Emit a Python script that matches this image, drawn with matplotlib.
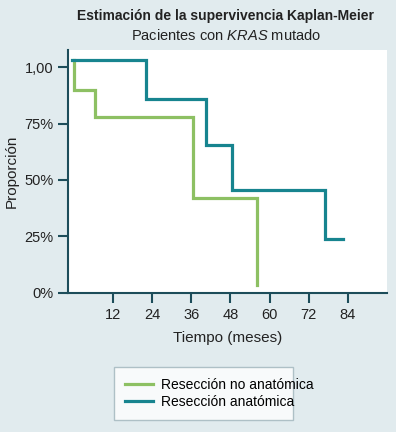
import matplotlib
matplotlib.use("Agg")
import matplotlib.pyplot as plt

# Kaplan-Meier step curves (months, survival proportion)
no_anat_t = [0, 0, 6.5, 36.5, 56]
no_anat_s = [1.03, 0.90, 0.78, 0.42, 0.035]
anat_t = [-0.5, 22, 40.5, 48.5, 77, 82.5]
anat_s = [1.03, 0.86, 0.655, 0.455, 0.24, 0.24]

x_ticks = [12, 24, 36, 48, 60, 72, 84]
y_ticks = [0, 0.25, 0.5, 0.75, 1.0]
y_labels = ["0%", "25%", "50%", "75%", "1,00"]

BG = "#e1ebee"
GREEN = "#8dc063"
TEAL = "#17848f"
SPINE = "#1d4d5a"

plt.rcParams["font.family"] = ["Liberation Sans", "DejaVu Sans"]
plt.rcParams["mathtext.fontset"] = "custom"
plt.rcParams["mathtext.it"] = "Liberation Sans:italic"
plt.rcParams["mathtext.rm"] = "Liberation Sans"

fig = plt.figure(figsize=(3.96, 4.32), dpi=100, facecolor=BG)
ax = fig.add_axes([0.172, 0.322, 0.805, 0.562])
ax.set_facecolor("white")

ax.plot(no_anat_t, no_anat_s, drawstyle="steps-post", color=GREEN, lw=2.3,
        label="Resección no anatómica", solid_joinstyle="miter")
ax.plot(anat_t, anat_s, drawstyle="steps-post", color=TEAL, lw=2.3,
        label="Resección anatómica", solid_joinstyle="miter")

ax.set_xlim(-1.8, 96)
ax.set_ylim(0, 1.075)
ax.set_xticks(x_ticks)
ax.set_yticks(y_ticks)
ax.set_yticklabels(y_labels)
for s in ["top", "right"]:
    ax.spines[s].set_visible(False)
for s in ["left", "bottom"]:
    ax.spines[s].set_color(SPINE)
    ax.spines[s].set_linewidth(1.5)
ax.tick_params(colors=SPINE, width=1.5, length=7, labelsize=10.5,
               labelcolor="#222222")
ax.tick_params(axis="x", pad=4)

ax.set_xlabel("Tiempo (meses)", fontsize=11, color="#222222", labelpad=6)
ax.set_ylabel("Proporción", fontsize=11, color="#222222", labelpad=4)

fig.text(0.57, 0.962, "Estimación de la supervivencia Kaplan-Meier",
         ha="center", va="center", fontsize=10, fontweight="bold", color="#222222")
fig.text(0.57, 0.918, "Pacientes con $\\it{KRAS}$ mutado",
         ha="center", va="center", fontsize=10.5, color="#222222")

leg = fig.legend(loc="lower left", bbox_to_anchor=(0.288, 0.028, 0.452, 0.12),
                 mode="expand", borderaxespad=0, frameon=True, fancybox=False,
                 fontsize=10, handlelength=2.0, handletextpad=0.6,
                 labelspacing=0.2, borderpad=0.8)
leg.get_frame().set_edgecolor("#9fb4bb")
leg.get_frame().set_linewidth(1.0)

fig.savefig("out.png", dpi=100, facecolor=BG)
